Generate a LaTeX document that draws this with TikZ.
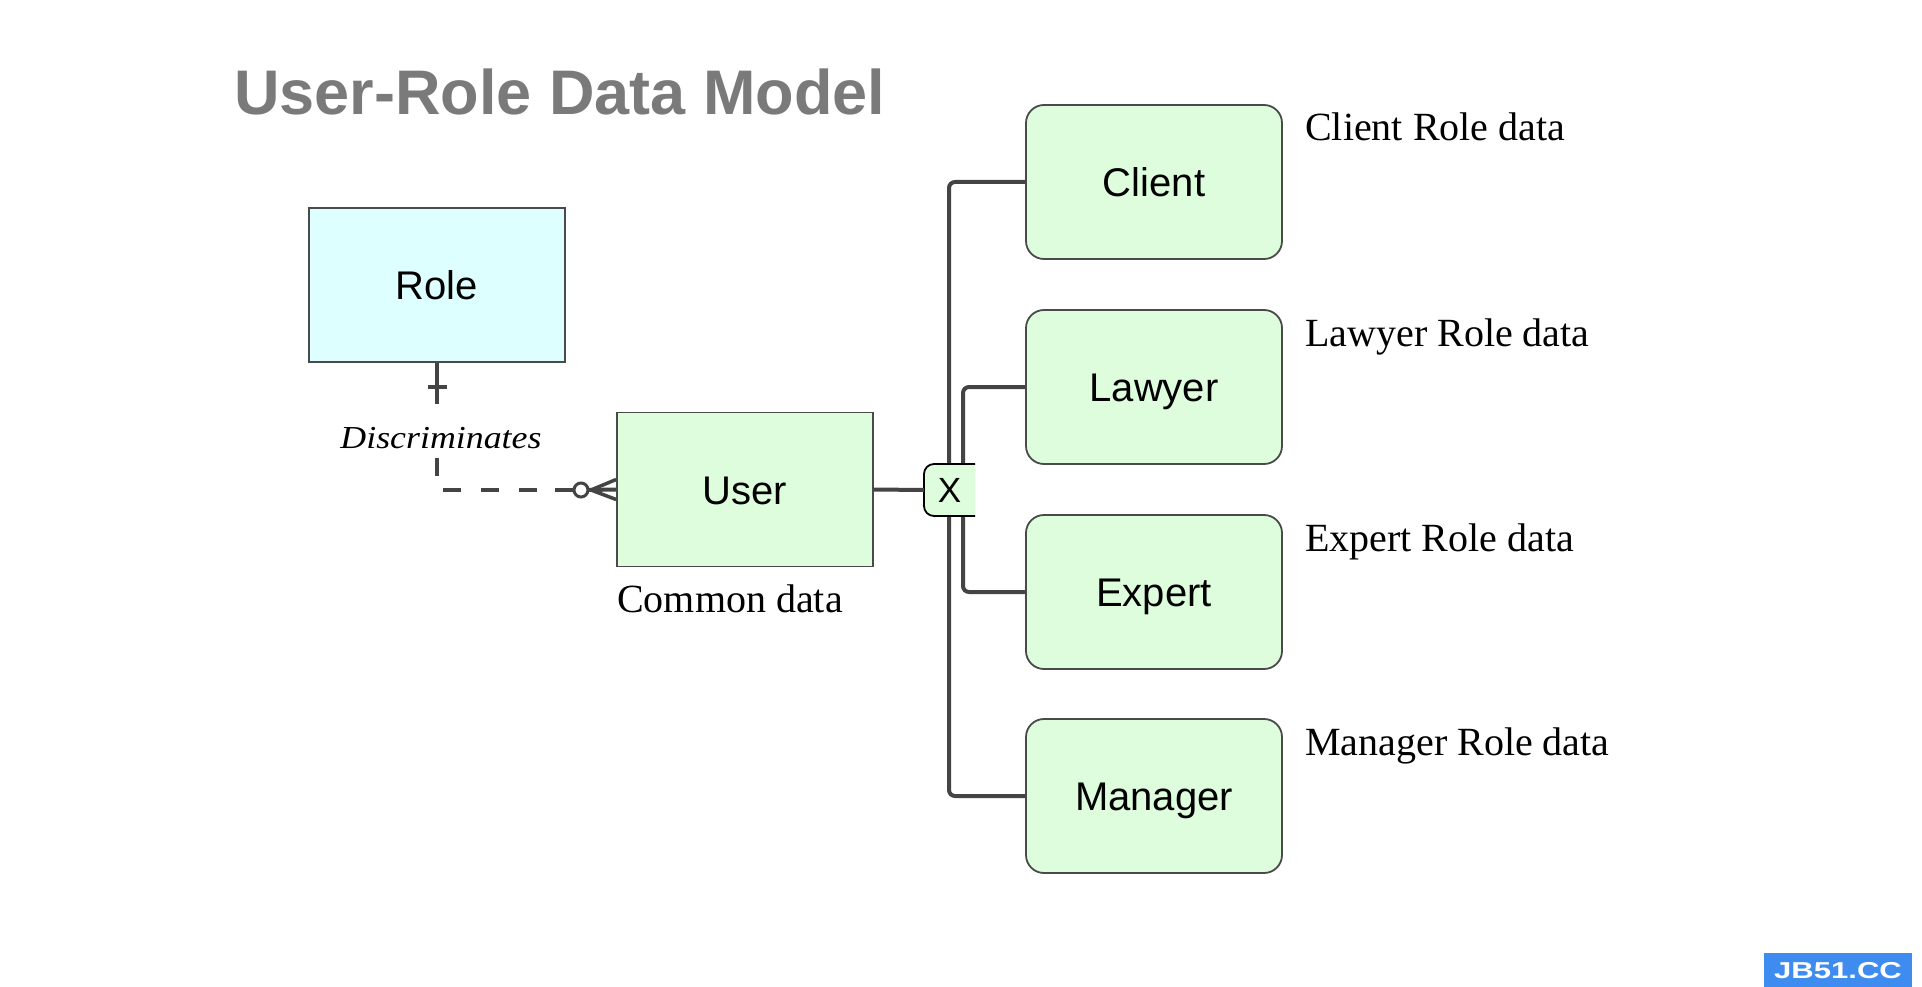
\documentclass[tikz,border=0pt]{standalone}
\usepackage{fontspec}
\usepackage{graphicx}
\setmainfont{Liberation Serif}
\newfontfamily\sansf{Liberation Sans}
\definecolor{entgreen}{HTML}{DDFDDD}
\definecolor{rolecyan}{HTML}{DDFFFF}
\definecolor{bordergray}{HTML}{4A4A4A}
\definecolor{linegray}{HTML}{444444}
\definecolor{titlegray}{HTML}{7A7A7A}
\definecolor{wmblue}{HTML}{3F8CF0}
\begin{document}
\begin{tikzpicture}[x=1pt,y=-1pt,
  ent/.style={draw=bordergray, line width=1.8pt, minimum width=256pt, minimum height=154pt,
    inner sep=0pt, text height=29pt, text depth=0pt, font=\sansf\fontsize{40}{48}\selectfont},
  subbox/.style={ent, rounded corners=18pt, fill=entgreen},
  conn/.style={draw=linegray, line width=4pt},
  lbl/.style={anchor=base west, inner sep=0pt, font=\fontsize{40}{48}\selectfont}]
\useasboundingbox[fill=white] (0,0) rectangle (1922,987);

% title
\node[anchor=base west, inner sep=0pt, text=titlegray,
  font=\sansf\bfseries\fontsize{63}{70}\selectfont] (title) at (234,115) {User-Role Data Model};

% entities
\node[ent, fill=rolecyan] (role) at (437,285) {Role};
\node[ent, fill=entgreen] (user) at (745,489.5) {User};
\node[subbox] (client) at (1154,182) {Client};
\node[subbox] (lawyer) at (1154,387) {Lawyer};
\node[subbox] (expert) at (1154,592) {Expert};
\node[subbox] (manager) at (1154,796) {Manager};

% side labels
\node[lbl] (lclient) at (1305,141) {Client Role data};
\node[lbl] (llawyer) at (1305,346) {Lawyer Role data};
\node[lbl] (lexpert) at (1305,551) {Expert Role data};
\node[lbl] (lmanager) at (1305,755) {Manager Role data};
\node[lbl] (lcommon) at (617,612) {Common data};

% subtype bus lines
\coordinate (bus1) at (949,490);
\coordinate (bus2) at (963,490);
\draw[conn, rounded corners=6pt] (client.west) -| (bus1) |- (manager.west);
\draw[conn, rounded corners=6pt] (lawyer.west) -| (bus2) |- (expert.west);

% exclusive (X) box
\begin{scope}
  \clip (900,440) rectangle (975,540);
  \filldraw[fill=entgreen, draw=black, line width=1.8pt, rounded corners=10pt]
    (924,464) rectangle (995,516);
\end{scope}
\node[inner sep=0pt, minimum width=51pt, minimum height=52pt,
  font=\sansf\fontsize{35}{40}\selectfont] (xbox) at (949.5,490) {X};
\draw[conn] (user.east) -- (xbox.west);

% Role -- User relationship
\coordinate (rb) at (437,404);
\draw[conn] (role.south) -- (rb);
\coordinate (c1) at (428,387);
\coordinate (c2) at (447,387);
\draw[conn] (c1) -- (c2);
\node[anchor=base, inner sep=0pt, font=\itshape\fontsize{32}{38}\selectfont] (disc) at (441,448)
  {\scalebox{1.12}[1]{Discriminates}};
\coordinate (ds) at (437,458);
\coordinate (de) at (555,490);
\draw[conn, dash pattern=on 18pt off 20pt] (ds) |- (de);
\coordinate (ca) at (574,490);
\coordinate (cc) at (581,490);
\coordinate (cb) at (588,490);
\draw[conn] (de) -- (ca);
\draw[conn, line width=3pt, fill=white] (cc) circle (7pt);
\draw[conn] (cb) -- (user.west);
\coordinate (cf) at (591,490);
\draw[conn, line width=3.5pt] ([yshift=10pt]user.west) -- (cf) -- ([yshift=-10pt]user.west);

% watermark
\fill[wmblue] (1764,953) rectangle (1912,987);
\node[text=white, inner sep=0pt, font=\sansf\bfseries\fontsize{23}{26}\selectfont] (wm) at (1838,971)
  {\scalebox{1.35}[1]{JB51.CC}};
\end{tikzpicture}
\end{document}
